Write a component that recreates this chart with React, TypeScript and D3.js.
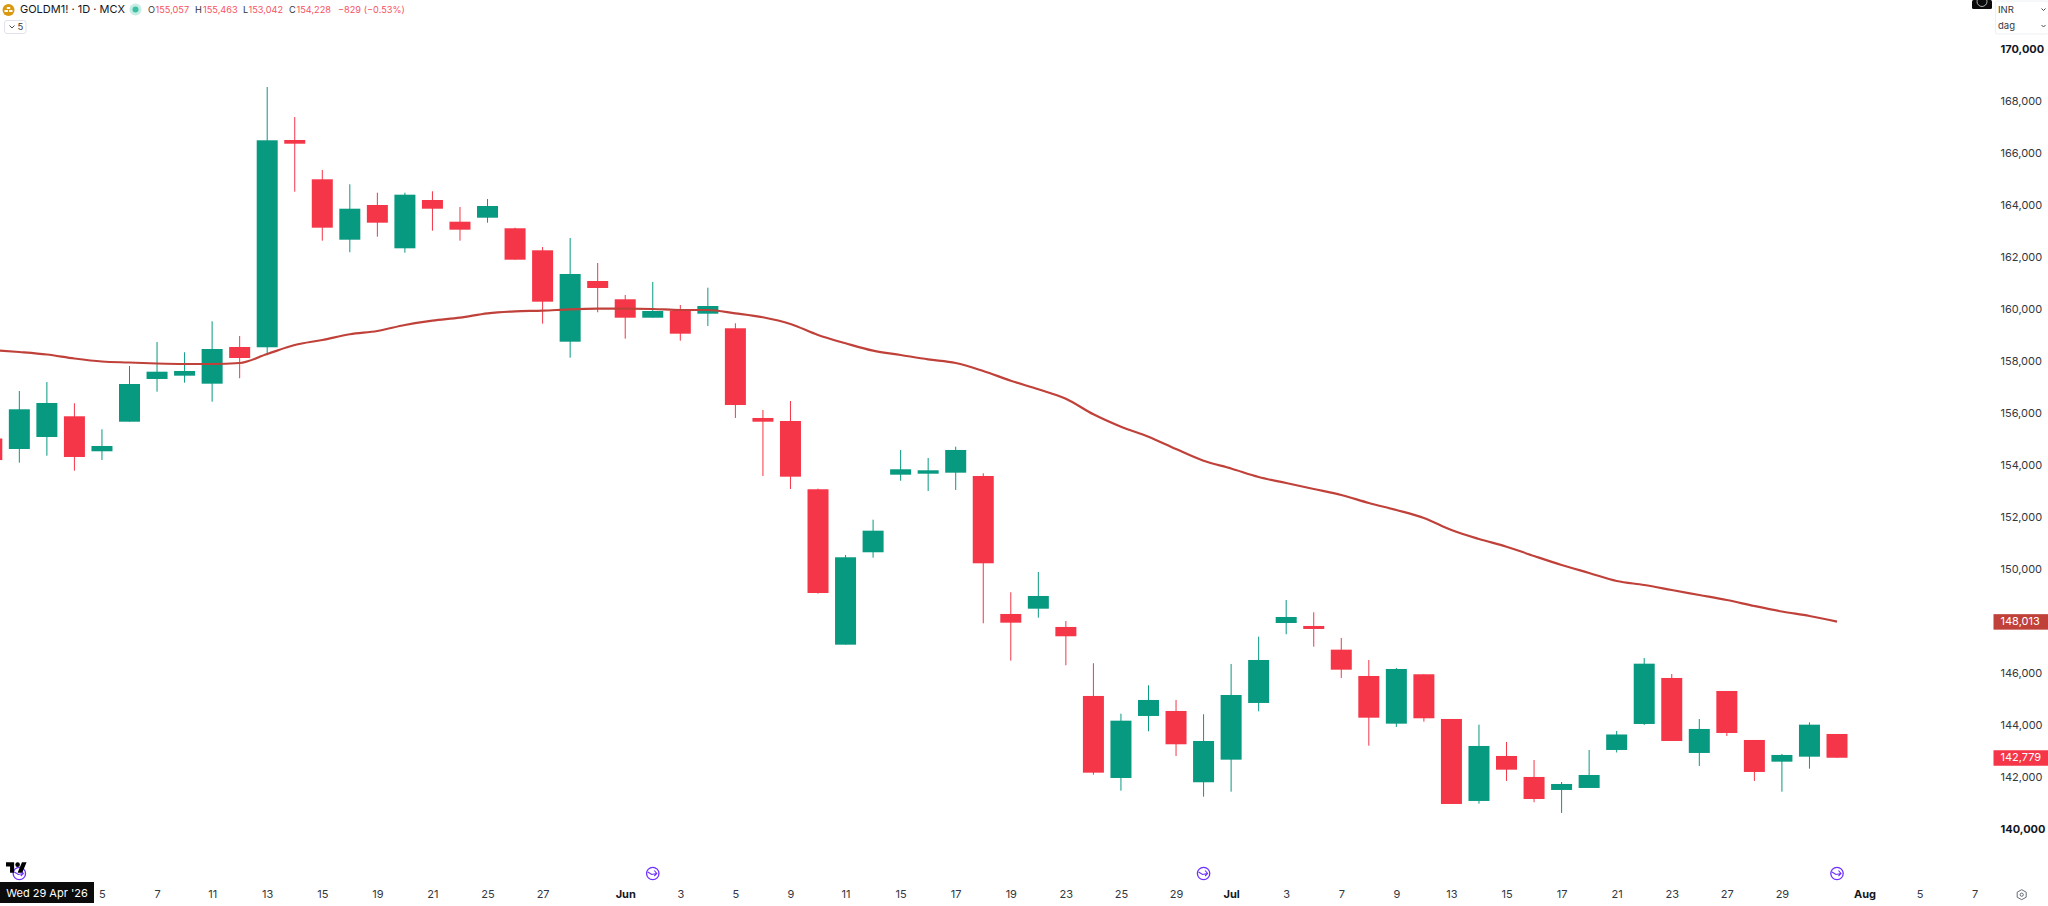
import React, { useEffect, useRef } from "react";
import * as d3 from "d3";

// one entry per trading day, oldest first (Wed 29 Apr '26 -> 31 Jul '26)
const opens = [
  155057, 154654, 155116, 155912, 154566, 155704, 157347, 157474, 157166, 158577,
  158566, 166539, 165027, 162704, 164039, 162373, 164231, 163396, 163550, 163143,
  162296, 158781, 161116, 160412, 159704, 159962, 159858, 159297, 155847, 155731,
  153105, 147128, 150682, 153666, 153704, 153743, 153616, 148309, 148512, 147809,
  145155, 142001, 144386, 144578, 141836, 142705, 144886, 147962, 147847, 146936,
  145924, 144090, 145989, 144270, 141117, 142847, 142040, 141540, 141617, 143078,
  144078, 145847, 142963, 145347, 143463, 142628, 142820, 143693,
];
const highs = [
  155463, 156885, 157231, 156412, 155412, 157847, 158770, 158374, 159566, 159000,
  168577, 167423, 165385, 164835, 164512, 164512, 164566, 163962, 164269, 163166,
  162423, 162770, 161808, 160577, 161077, 160193, 160858, 159489, 156154, 156501,
  153128, 150578, 151935, 154616, 154308, 154743, 153720, 149143, 149924, 148039,
  146413, 144474, 145566, 145001, 144451, 146386, 147436, 148847, 148374, 147386,
  146539, 146232, 145989, 144270, 144051, 143386, 142693, 141847, 143078, 143809,
  146616, 146001, 144270, 145347, 143463, 142924, 144143, 143693,
];
const lows = [
  153042, 154128, 154397, 153820, 154231, 155704, 156858, 157204, 156474, 157374,
  158258, 164550, 162666, 162220, 162820, 162204, 163050, 162666, 163358, 161935,
  159474, 158166, 159912, 158897, 159704, 158820, 159385, 155847, 153616, 153116,
  149090, 147128, 150474, 153435, 153039, 153078, 147951, 146513, 148166, 146336,
  142128, 141513, 143797, 142847, 141282, 141474, 144566, 147528, 147051, 145847,
  143243, 143963, 144166, 141001, 141013, 141886, 141067, 140655, 141617, 142982,
  144040, 143424, 142463, 143616, 141886, 141474, 142359, 142779,
];
const closes = [
  154228, 156181, 156424, 154347, 154770, 157154, 157627, 157654, 158500, 158154,
  166527, 166396, 163166, 163896, 163358, 164435, 163896, 163089, 164000, 161935,
  160320, 161385, 160847, 159704, 159962, 159089, 160154, 156347, 155704, 153589,
  149116, 150489, 151512, 153874, 153835, 154616, 150258, 147974, 149001, 147451,
  142205, 144205, 145001, 143297, 143424, 145193, 146539, 148193, 147732, 146166,
  144320, 146193, 144297, 141001, 143232, 142320, 141193, 141770, 142116, 143674,
  146397, 143424, 143886, 143732, 142232, 142886, 144051, 142779,
];
const maValues = [
  158462, 158385, 158289, 158135, 158020, 157981, 157943, 157924, 157924, 157962,
  158308, 158654, 158847, 159066, 159193, 159423, 159589, 159704, 159873, 159950,
  159974, 160027, 160050, 160050, 160039, 160000, 160000, 159873, 159720, 159462,
  159039, 158720, 158435, 158270, 158104, 157962, 157654, 157281, 156951, 156589,
  155989, 155512, 155128, 154654, 154205, 153904, 153578, 153347, 153116, 152885,
  152578, 152308, 152000, 151539, 151193, 150897, 150539, 150193, 149885, 149578,
  149424, 149232, 149039, 148847, 148616, 148404, 148232, 148013,
];

const timeTickIndex = [
  4, 6, 8, 10, 12, 14, 16, 18, 20, 23, 25, 27, 29, 31, 33, 35, 37, 39, 41, 43, 45,
  47, 49, 51, 53, 55, 57, 59, 61, 63, 65, 68, 70, 72,
];
const timeTickLabels = [
  "5", "7", "11", "13", "15", "19", "21", "25", "27", "Jun", "3", "5", "9", "11",
  "15", "17", "19", "23", "25", "29", "Jul", "3", "7", "9", "13", "15", "17", "21",
  "23", "27", "29", "Aug", "5", "7",
];
const boldTimeLabels = ["Jun", "Jul", "Aug"];
const priceTicks = d3.range(140000, 170001, 2000);
const boldPrices = [140000, 170000];
const hiddenPrices = [148000]; // sits under the MA tag
const eventIndex = [1, 24, 44, 67];

const legendParts = [
  { key: "O", value: "155,057", keyX: 148, valueX: 155.5 },
  { key: "H", value: "155,463", keyX: 195, valueX: 203 },
  { key: "L", value: "153,042", keyX: 243, valueX: 248.5 },
  { key: "C", value: "154,228", keyX: 289, valueX: 296.5 },
];

const GREEN = "#089981";
const RED = "#F43648";
const MA_COLOR = "#C0413A";
const FONT = "Inter, Roboto, sans-serif";

const App: React.FC = () => {
  const svgRef = useRef<SVGSVGElement | null>(null);

  useEffect(() => {
    const svg = d3.select(svgRef.current);
    svg.selectAll("*").remove();
    svg.style("font-family", FONT);

    const x = d3.scaleLinear().domain([0, 67]).range([-8.2, 1837]);
    const y = d3.scaleLinear().domain([140000, 170000]).range([830, 50]);
    const bodyWidth = 21;

    // ---------- Candles ----------
    const candles = opens.map((o, i) => ({
      i,
      o,
      h: highs[i],
      l: lows[i],
      c: closes[i],
    }));
    const colorOf = (d: { o: number; c: number }) => (d.c >= d.o ? GREEN : RED);

    const g = svg.append("g");
    g.selectAll("line.wick")
      .data(candles)
      .enter()
      .append("line")
      .attr("class", "wick")
      .attr("x1", (d) => x(d.i))
      .attr("x2", (d) => x(d.i))
      .attr("y1", (d) => y(d.h))
      .attr("y2", (d) => y(d.l))
      .attr("stroke", colorOf)
      .attr("stroke-width", 1);

    g.selectAll("rect.body")
      .data(candles)
      .enter()
      .append("rect")
      .attr("class", "body")
      .attr("x", (d) => x(d.i) - bodyWidth / 2)
      .attr("width", bodyWidth)
      .attr("y", (d) => y(Math.max(d.o, d.c)))
      .attr("height", (d) => Math.max(1, Math.abs(y(d.o) - y(d.c))))
      .attr("fill", colorOf);

    // ---------- Moving average ----------
    const line = d3
      .line<number>()
      .x((_, i) => x(i))
      .y((d) => y(d))
      .curve(d3.curveMonotoneX);

    svg
      .append("path")
      .datum(maValues)
      .attr("fill", "none")
      .attr("stroke", MA_COLOR)
      .attr("stroke-width", 2.2)
      .attr("d", line);

    // ---------- Price axis ----------
    const yAxis = svg
      .append("g")
      .attr("transform", "translate(2000.5,0)")
      .call(
        d3
          .axisRight(y)
          .tickValues(priceTicks.filter((p) => !hiddenPrices.includes(p)))
          .tickSize(0)
          .tickPadding(0)
          .tickFormat((d) => d3.format(",")(d as number))
      );
    yAxis.select(".domain").remove();
    yAxis
      .selectAll<SVGTextElement, number>("text")
      .attr("dy", "0.32em")
      .attr("y", -0.8)
      .style("font-family", FONT)
      .style("font-size", "11px")
      .style("font-weight", (d) => (boldPrices.includes(d) ? 700 : 400))
      .style("fill", (d) => (boldPrices.includes(d) ? "#131722" : "#333740"));

    // price tags
    const tags = [
      { value: maValues[maValues.length - 1], fill: MA_COLOR },
      { value: closes[closes.length - 1], fill: RED },
    ];
    const tag = svg
      .selectAll("g.tag")
      .data(tags)
      .enter()
      .append("g")
      .attr("class", "tag")
      .attr("transform", (d) => `translate(0,${y(d.value)})`);
    tag
      .append("rect")
      .attr("x", 1993.5)
      .attr("y", -7.5)
      .attr("width", 54.5)
      .attr("height", 15.5)
      .attr("fill", (d) => d.fill);
    tag
      .append("text")
      .attr("x", 2000.5)
      .attr("dy", "0.32em")
      .attr("fill", "#fff")
      .style("font-size", "11px")
      .text((d) => d3.format(",")(d.value));

    // ---------- Time axis ----------
    const xAxis = svg
      .append("g")
      .attr("transform", "translate(0,894.5)")
      .call(
        d3
          .axisBottom(x)
          .tickValues(timeTickIndex)
          .tickSize(0)
          .tickPadding(0)
          .tickFormat((_, i) => timeTickLabels[i])
      );
    xAxis.select(".domain").remove();
    xAxis
      .selectAll<SVGTextElement, number>("text")
      .attr("y", 0)
      .attr("dy", "0.35em")
      .style("font-family", FONT)
      .style("font-size", "11px")
      .style("font-weight", (_, i) =>
        boldTimeLabels.includes(timeTickLabels[i]) ? 700 : 400
      )
      .style("fill", (_, i) =>
        boldTimeLabels.includes(timeTickLabels[i]) ? "#131722" : "#333740"
      );

    // ---------- Event markers ----------
    const marker = svg
      .selectAll("g.event")
      .data(eventIndex)
      .enter()
      .append("g")
      .attr("class", "event")
      .attr("transform", (d) => `translate(${x(d)},873.5)`);
    marker
      .append("circle")
      .attr("r", 6.2)
      .attr("fill", "#fff")
      .attr("stroke", "#6E2EFF")
      .attr("stroke-width", 1.3);
    marker
      .append("path")
      .attr("d", "M-5,-1.5 L-1,1 L4,0 M1.5,-3 L4,0 L1.5,2.5")
      .attr("fill", "none")
      .attr("stroke", "#6E2EFF")
      .attr("stroke-width", 1.1);

    // crosshair date tag + logo
    svg
      .append("rect")
      .attr("x", 0)
      .attr("y", 882)
      .attr("width", 94)
      .attr("height", 21)
      .attr("fill", "#0b0b0b");
    svg
      .append("text")
      .attr("x", 47)
      .attr("y", 893)
      .attr("dy", "0.35em")
      .attr("text-anchor", "middle")
      .attr("fill", "#fff")
      .style("font-size", "11px")
      .text("Wed 29 Apr '26");

    const logo = svg
      .append("g")
      .attr("transform", "translate(6,860) scale(0.58)")
      .attr("fill", "#000");
    logo.append("path").attr("d", "M14 22H7V11H0V4h14v18zM28 22h-8l7.5-18h8L28 22z");
    logo.append("circle").attr("cx", 20).attr("cy", 8).attr("r", 4);

    // settings icon, bottom right
    const gear = svg.append("g").attr("transform", "translate(2021.7,894.7)");
    gear
      .append("path")
      .attr("d", "M0,-5 L4.5,-2.5 L4.5,2.5 L0,5 L-4.5,2.5 L-4.5,-2.5 Z")
      .attr("fill", "none")
      .attr("stroke", "#555a66")
      .attr("stroke-width", 0.9);
    gear.append("circle").attr("r", 1.6).attr("fill", "none").attr("stroke", "#555a66").attr("stroke-width", 0.9);

    // ---------- Legend ----------
    const legend = svg.append("g").style("font-size", "10px");
    const gold = legend.append("g").attr("transform", "translate(8.5,10)");
    gold.append("circle").attr("r", 6).attr("fill", "#D9980F");
    gold.append("rect").attr("x", -1.7).attr("y", -3).attr("width", 3.4).attr("height", 2).attr("fill", "#fff");
    gold.append("rect").attr("x", -4).attr("y", 0).attr("width", 3.4).attr("height", 2).attr("fill", "#fff");
    gold.append("rect").attr("x", 0.6).attr("y", 0).attr("width", 3.4).attr("height", 2).attr("fill", "#fff");

    legend
      .append("text")
      .attr("x", 20)
      .attr("y", 9.5)
      .attr("dy", "0.35em")
      .attr("fill", "#131722")
      .style("font-size", "11px")
      .text("GOLDM1! · 1D · MCX");

    legend.append("circle").attr("cx", 135.5).attr("cy", 9.5).attr("r", 6).attr("fill", "#C5EDE4");
    legend.append("circle").attr("cx", 135.5).attr("cy", 9.5).attr("r", 3).attr("fill", "#3CBFA5");

    legendParts.forEach((p) => {
      legend
        .append("text")
        .attr("x", p.keyX)
        .attr("y", 9.5)
        .attr("dy", "0.35em")
        .attr("fill", "#333740")
        .style("font-size", "9.2px")
        .text(p.key);
      legend
        .append("text")
        .attr("x", p.valueX)
        .attr("y", 9.5)
        .attr("dy", "0.35em")
        .attr("fill", "#F7525F")
        .style("font-size", "9.2px")
        .text(p.value);
    });
    legend
      .append("text")
      .attr("x", 338)
      .attr("y", 9.5)
      .attr("dy", "0.35em")
      .attr("fill", "#F7525F")
      .style("font-size", "9.2px")
      .text("−829 (−0.53%)");

    // collapsed indicators button
    legend
      .append("rect")
      .attr("x", 4.5)
      .attr("y", 20.5)
      .attr("width", 21.5)
      .attr("height", 13)
      .attr("rx", 2.5)
      .attr("fill", "#fff")
      .attr("stroke", "#E0E3EB");
    legend
      .append("path")
      .attr("d", "M9.5,25.5 L12,28 L14.5,25.5")
      .attr("fill", "none")
      .attr("stroke", "#333740")
      .attr("stroke-width", 0.9);
    legend
      .append("text")
      .attr("x", 20.5)
      .attr("y", 27)
      .attr("dy", "0.35em")
      .attr("text-anchor", "middle")
      .attr("fill", "#333740")
      .style("font-size", "9.5px")
      .text("5");

    // ---------- Top right controls ----------
    const top = svg.append("g").style("font-size", "9.5px");
    top.append("rect").attr("x", 1972).attr("y", 0).attr("width", 20).attr("height", 9).attr("rx", 1.5).attr("fill", "#0b0b0b");
    top.append("circle").attr("cx", 1982).attr("cy", 1.5).attr("r", 5).attr("fill", "none").attr("stroke", "#d8d8d8").attr("stroke-width", 0.8);
    top.append("rect").attr("x", 1995.5).attr("y", 1).attr("width", 53).attr("height", 33).attr("rx", 2).attr("fill", "#fff").attr("stroke", "#EEF0F3");
    const labels = [
      { text: "INR", cy: 9.5 },
      { text: "dag", cy: 26 },
    ];
    labels.forEach((l) => {
      top.append("text").attr("x", 1998).attr("y", l.cy).attr("dy", "0.35em").attr("fill", "#333740").text(l.text);
      top
        .append("path")
        .attr("d", `M2041.5,${l.cy - 1} L2043.5,${l.cy + 1} L2045.5,${l.cy - 1}`)
        .attr("fill", "none")
        .attr("stroke", "#333740")
        .attr("stroke-width", 0.9);
    });
  }, []);

  return (
    <svg
      ref={svgRef}
      width={2048}
      height={906}
      style={{ position: "absolute", left: 0, top: 0, display: "block", background: "#fff" }}
    />
  );
};

export default App;
